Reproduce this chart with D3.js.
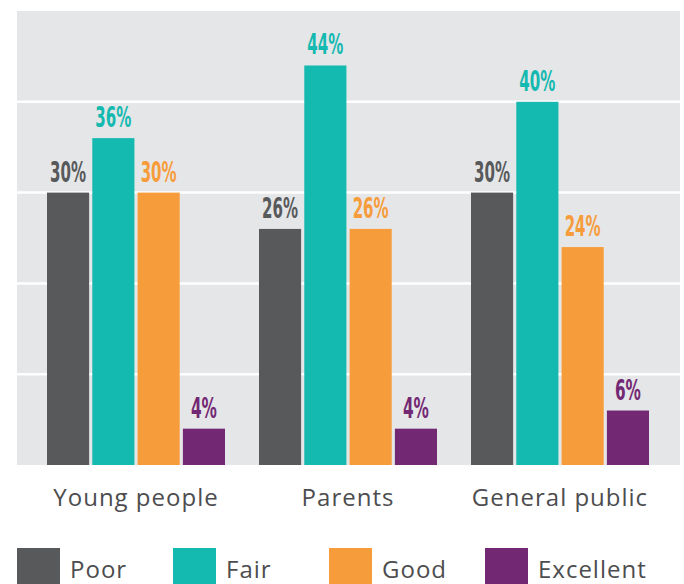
<!DOCTYPE html>
<html><head><meta charset="utf-8">
<script src="https://cdn.jsdelivr.net/npm/d3@7"></script>
<style>body{margin:0;background:#fff}svg{display:block}</style>
</head><body>
<script>
const groups = ["Young people", "Parents", "General public"];
const series = ["Poor", "Fair", "Good", "Excellent"];
const colors = ["#58595b", "#14b9b0", "#f79c3a", "#732873"];
const poor = [30, 26, 30];
const fair = [36, 44, 40];
const good = [30, 26, 24];
const excellent = [4, 4, 6];
const gridTicks = [10, 20, 30, 40];

const values = [poor, fair, good, excellent];
const W = 684, H = 584;
const svg = d3.select("body").append("svg").attr("width", W).attr("height", H);

const plot = {left: 17, right: 680, top: 11, bottom: 465};
const y = d3.scaleLinear().domain([0, 50]).range([plot.bottom, plot.top]);
const x0 = d3.scaleBand().domain(groups).range([30, 666]).paddingInner(0);
const x1 = d3.scaleBand().domain(series).range([17, 195]).paddingInner(0.07);

svg.append("rect").attr("x", plot.left).attr("y", plot.top)
  .attr("width", plot.right - plot.left).attr("height", plot.bottom - plot.top)
  .attr("fill", "#e5e6e8");

svg.append("g").selectAll("line").data(gridTicks).join("line")
  .attr("x1", plot.left).attr("x2", plot.right)
  .attr("y1", d => y(d)).attr("y2", d => y(d))
  .attr("stroke", "#fff").attr("stroke-width", 2.5);

const data = [];
groups.forEach((g, gi) => series.forEach((s, si) => data.push({g, s, si, v: values[si][gi]})));

const gBars = svg.append("g");
gBars.selectAll("rect").data(data).join("rect")
  .attr("x", d => x0(d.g) + x1(d.s)).attr("width", x1.bandwidth())
  .attr("y", d => y(d.v)).attr("height", d => y(0) - y(d.v))
  .attr("fill", d => colors[d.si]);

gBars.selectAll("text").data(data).join("text")
  .attr("x", d => x0(d.g) + x1(d.s) + x1.bandwidth() / 2)
  .attr("y", d => y(d.v) - 11)
  .attr("text-anchor", "middle")
  .attr("font-family", "'Liberation Sans Narrow', 'DejaVu Sans Condensed', sans-serif")
  .attr("font-weight", "bold").attr("font-size", 29)
  .attr("textLength", d => d.v >= 10 ? 36 : 26).attr("lengthAdjust", "spacingAndGlyphs")
  .attr("fill", d => colors[d.si])
  .text(d => d.v + "%");

svg.append("g").selectAll("text").data(groups).join("text")
  .attr("x", d => x0(d) + x0.bandwidth() / 2)
  .attr("y", 506)
  .attr("text-anchor", "middle")
  .attr("font-family", "'Open Sans', sans-serif")
  .attr("font-size", 24).attr("letter-spacing", 1).attr("fill", "#4d4d4f")
  .text(d => d);

const legX = d3.scaleBand().domain(series).range([17, 641]);
const leg = svg.append("g").selectAll("g").data(series).join("g")
  .attr("transform", d => `translate(${legX(d)},548)`);
leg.append("rect").attr("width", 43).attr("height", 40).attr("fill", (d, i) => colors[i]);
leg.append("text").attr("x", 53).attr("y", 30)
  .attr("font-family", "'Open Sans', sans-serif")
  .attr("font-size", 24).attr("letter-spacing", 1).attr("fill", "#4d4d4f")
  .text(d => d);
</script>
</body></html>
